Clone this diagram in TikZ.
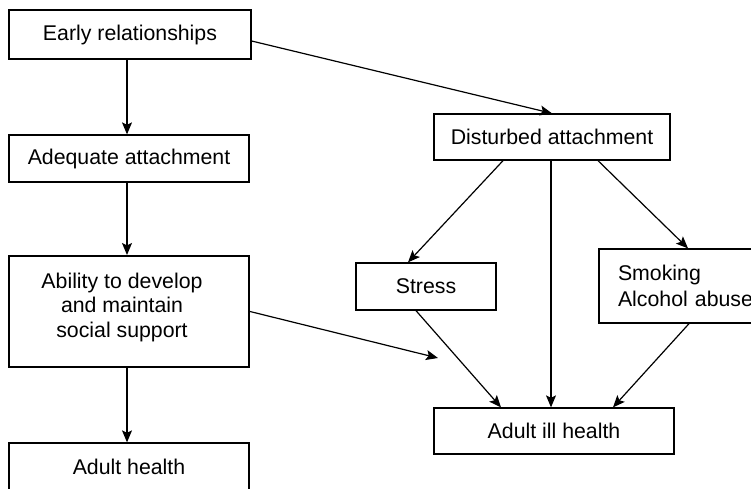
\documentclass[tikz,border=0pt]{standalone}
\usepackage{fontspec}
\setmainfont{Liberation Sans}
\usetikzlibrary{arrows.meta}
\begin{document}
\begin{tikzpicture}[x=1pt,y=-1pt,
  box/.style={draw=black, line width=1.3pt, rectangle, inner sep=0pt,
    font=\fontsize{21.3}{24.5}\selectfont},
  conn/.style={line width=1.2pt, -{Stealth[length=12pt,width=10pt,inset=2.5pt]}}]
\useasboundingbox (0,0) rectangle (751,488);
\clip (0,0) rectangle (751,488);
\fill[white] (0,0) rectangle (751,488);
% left column
\node[box, minimum width=242pt, minimum height=49pt] (early) at (130,34.5) {Early relationships};
\node[box, minimum width=240pt, minimum height=47pt] (adequate) at (129,158.5) {Adequate attachment};
\node[box, line width=2pt, minimum width=240pt, minimum height=111pt] (ability) at (129,311.5) {};
\node[font=\fontsize{21.3}{24.5}\selectfont, align=center, inner sep=0pt] (abilitytext) at (122,307)
  {Ability to develop\\and maintain\\social support};
\node[box, minimum width=240pt, minimum height=48pt] (adulth) at (129,467) {Adult health};
% right part
\node[box, minimum width=236pt, minimum height=46pt] (dist) at (552,137) {Disturbed attachment};
\node[box, minimum width=140pt, minimum height=47pt] (stress) at (426,286.5) {Stress};
\node[box, minimum width=200pt, minimum height=74pt, text width=162pt, inner xsep=19pt,
  align=left, font=\fontsize{21.3}{26}\selectfont] (smoke) at (699,286) {Smoking\\Alcohol abuse};
\node[box, minimum width=240pt, minimum height=46pt] (ill) at (554,431) {Adult ill health};
\coordinate (free) at (438,358);
% connectors
\draw[conn] ([yshift=-6.5pt]early.east) -- (dist.north);
\draw[conn] ([xshift=-3pt]early.south) -- ([xshift=-2pt]adequate.north);
\draw[conn] ([xshift=-2pt]adequate.south) -- ([xshift=-2pt]ability.north);
\draw[conn] ([xshift=-2pt]ability.south) -- ([xshift=-2pt]adulth.north);
\draw[conn] ([xshift=-49pt]dist.south) -- ([xshift=-18pt]stress.north);
\draw[conn] ([xshift=-1pt]dist.south) -- ([xshift=-3pt]ill.north);
\draw[conn] ([xshift=46pt]dist.south) -- ([xshift=-11pt]smoke.north);
\draw[conn] ([xshift=-10pt]stress.south) -- ([xshift=-53pt]ill.north);
\draw[conn] ([xshift=-10pt]smoke.south) -- ([xshift=59pt]ill.north);
\draw[conn] (ability.east) -- (free);
\end{tikzpicture}
\end{document}
